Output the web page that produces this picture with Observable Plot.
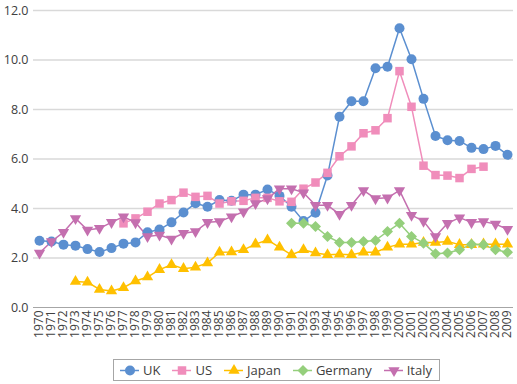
<!DOCTYPE html>
<html>
<head>
<meta charset="utf-8">
<script src="https://cdn.jsdelivr.net/npm/d3@7"></script>
<script src="https://cdn.jsdelivr.net/npm/@observablehq/plot@0.6"></script>
<style>
  body { margin: 0; padding-top: 5px; background: #fff; font-family: "Open Sans", "Noto Sans", sans-serif; }
  #chart svg { overflow: visible; display: block; }
  #legend { position: absolute; left: 113px; top: 359px; height: 22px; border: 1px solid #a6a6a6;
            display: flex; align-items: center; padding: 0 7px 0 6px; box-sizing: border-box; }
  .item { display: flex; align-items: center; margin-right: 12px; font-size: 13px; color: #404040; }
  .item:last-child { margin-right: 0; }
  .item svg { margin-right: 4px; overflow: visible; }
</style>
</head>
<body>
<div id="chart"></div>
<div id="legend"></div>
<script>
const years = d3.range(1970, 2010);
const seriesNames = ["UK", "US", "Japan", "Germany", "Italy"];
const seriesColors = ["#5B8FD0", "#F08DBB", "#FFC000", "#95CF7C", "#C46FAF"];
const yTicks = [0, 2, 4, 6, 8, 10, 12];

const uk = [2.70, 2.67, 2.54, 2.50, 2.36, 2.24, 2.40, 2.58, 2.63, 3.04,
            3.15, 3.44, 3.84, 4.21, 4.07, 4.34, 4.31, 4.56, 4.56, 4.77,
            4.51, 4.07, 3.49, 3.83, 5.33, 7.71, 8.33, 8.33, 9.67, 9.73,
            11.28, 10.03, 8.43, 6.93, 6.76, 6.73, 6.45, 6.40, 6.53, 6.17];
const us = [null, null, null, null, null, null, null, 3.40, 3.60, 3.87,
            4.20, 4.34, 4.64, 4.47, 4.51, 4.20, 4.29, 4.31, 4.43, 4.43,
            4.29, 4.27, 4.80, 5.05, 5.44, 6.11, 6.51, 7.04, 7.16, 7.65,
            9.55, 8.11, 5.73, 5.35, 5.33, 5.23, 5.60, 5.69, null, null];
const japan = [null, null, null, 1.05, 1.02, 0.73, 0.67, 0.80, 1.07, 1.23,
               1.53, 1.73, 1.57, 1.63, 1.80, 2.23, 2.24, 2.33, 2.56, 2.73,
               2.43, 2.13, 2.33, 2.20, 2.13, 2.15, 2.13, 2.23, 2.23, 2.43,
               2.56, 2.56, 2.63, 2.63, 2.67, 2.54, 2.54, 2.56, 2.56, 2.56];
const germany = [null, null, null, null, null, null, null, null, null, null,
                 null, null, null, null, null, null, null, null, null, null,
                 null, 3.40, 3.40, 3.27, 2.87, 2.63, 2.63, 2.67, 2.71, 3.07,
                 3.40, 2.87, 2.60, 2.17, 2.20, 2.33, 2.56, 2.54, 2.33, 2.23];
const italy = [2.20, 2.67, 3.04, 3.60, 3.13, 3.20, 3.44, 3.67, 3.43, 2.87,
               2.93, 2.77, 3.00, 3.07, 3.44, 3.47, 3.67, 3.87, 4.20, 4.40,
               4.80, 4.80, 4.64, 4.13, 4.13, 3.77, 4.13, 4.73, 4.40, 4.43,
               4.73, 3.73, 3.49, 2.87, 3.40, 3.63, 3.44, 3.47, 3.37, 3.16];

const seriesValues = [uk, us, japan, germany, italy];
const symbols = [
  {symbol: "circle", r: 5, rotate: 0},
  {symbol: "square", r: 4.8, rotate: 0},
  {symbol: "triangle", r: 4.2, rotate: 0},
  {symbol: "square", r: 4.4, rotate: 45},
  {symbol: "triangle", r: 4.2, rotate: 180}
];

const marks = [
  Plot.ruleY(yTicks.filter(d => d > 0), {stroke: "#d9d9d9", strokeWidth: 1.5}),
  Plot.ruleY([0], {stroke: "#a6a6a6", strokeWidth: 1.2}),
  Plot.axisY({ticks: yTicks, tickFormat: d3.format(".1f"), tickSize: 0, tickPadding: 5,
              label: null, fontSize: 12.5, color: "#404040"}),
  Plot.axisX({ticks: years, tickRotate: -90, tickSize: 0, tickPadding: 3, tickFormat: d => String(d),
              label: null, fontSize: 12, color: "#404040"})
];
seriesNames.forEach((name, i) => {
  const rows = years.map((yr, j) => ({year: yr, value: seriesValues[i][j]}));
  marks.push(Plot.line(rows, {x: "year", y: "value", stroke: seriesColors[i], strokeWidth: 1.5}));
});
seriesNames.forEach((name, i) => {
  const rows = years.map((yr, j) => ({year: yr, value: seriesValues[i][j]})).filter(d => d.value != null);
  marks.push(Plot.dot(rows, {x: "year", y: "value", fill: seriesColors[i], stroke: "none",
    symbol: symbols[i].symbol, r: symbols[i].r, rotate: symbols[i].rotate}));
});

const chart = Plot.plot({
  width: 517,
  height: 350,
  marginTop: 5,
  marginBottom: 48,
  marginLeft: 33,
  marginRight: 4,
  style: {fontFamily: "'Open Sans', 'Noto Sans', sans-serif", color: "#404040", background: "#fff", overflow: "visible"},
  x: {type: "point", domain: years, padding: 0.5},
  y: {domain: [0, 12]},
  marks
});
document.getElementById("chart").appendChild(chart);

// Legend
const legend = document.getElementById("legend");
seriesNames.forEach((name, i) => {
  const item = document.createElement("div");
  item.className = "item";
  const sw = Plot.plot({
    width: 19, height: 16, margin: 0,
    x: {domain: [0, 1], axis: null}, y: {domain: [0, 1], axis: null},
    style: {background: "transparent", overflow: "visible"},
    marks: [
      Plot.ruleY([0.5], {x1: 0, x2: 1, stroke: seriesColors[i], strokeWidth: 1.5}),
      Plot.dot([{x: 0.5, y: 0.5}], {x: "x", y: "y", fill: seriesColors[i], stroke: "none",
        symbol: symbols[i].symbol, r: symbols[i].r, rotate: symbols[i].rotate})
    ]
  });
  item.appendChild(sw);
  const t = document.createElement("span");
  t.textContent = name;
  item.appendChild(t);
  legend.appendChild(item);
});
</script>
</body>
</html>
